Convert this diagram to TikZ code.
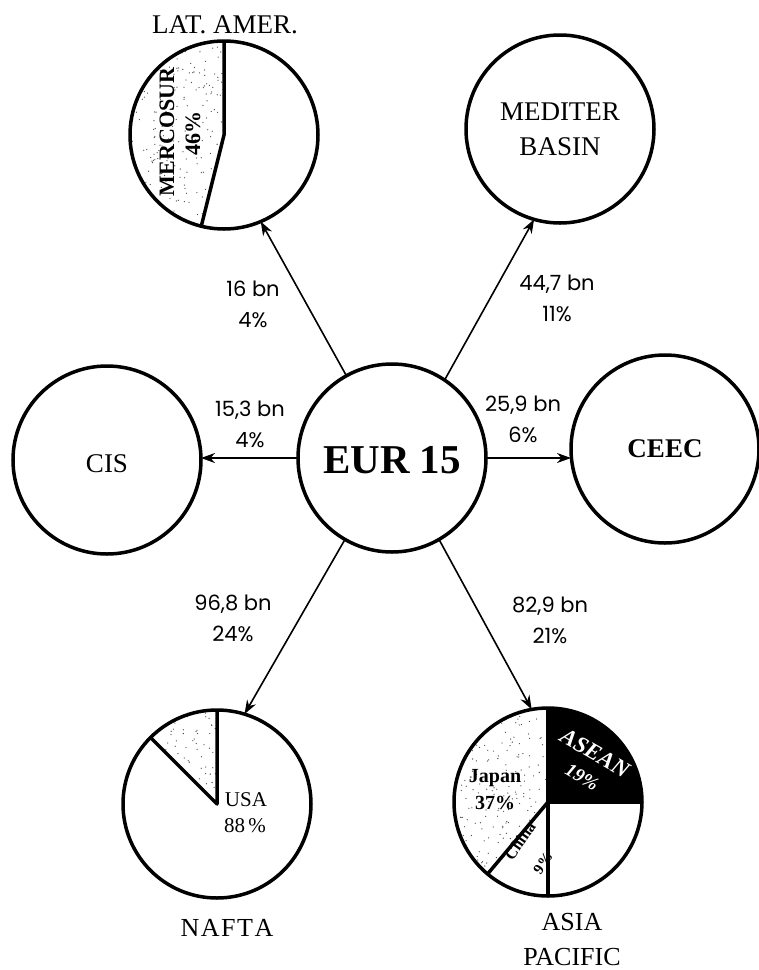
\documentclass[tikz,border=0pt]{standalone}
\usepackage{fontspec}
\setmainfont{Liberation Serif}
\newfontfamily\gothic{Poppins}
\usetikzlibrary{arrows.meta}
\begin{document}
\begin{tikzpicture}[x=1pt,y=1pt,
  region/.style={circle,draw,line width=3.5pt,minimum size=188pt,inner sep=0pt,outer sep=0pt},
  flow/.style={line width=1.6pt,-{Stealth[length=14pt,width=10pt]}},
  flowlbl/.style={font=\gothic\fontsize{21}{31}\selectfont,align=center},
  ttl/.style={font=\fontsize{27}{35}\selectfont,align=center},
  divider/.style={line width=3.5pt,line join=round},
  pielbl/.style={font=\bfseries\fontsize{22}{24}\selectfont,inner sep=0pt},
  speck/.style={fill=black!70}]
\useasboundingbox (0,0) rectangle (759,-970);
\pgfmathsetseed{4711}
% centres
\coordinate (lac) at (224,-135);
\coordinate (nac) at (217,-804);
\coordinate (asc) at (548,-802);
% Lat. Amer. stippled sector
\begin{scope}
  \clip (lac) -- ++(90:94) arc[start angle=90,end angle=256,radius=94] -- cycle;
  \foreach \i in {1,...,480} \fill[speck] ([shift={(lac)}] rand*94, rand*94) circle (0.65pt);
\end{scope}
% NAFTA stippled sector
\begin{scope}
  \clip (nac) -- ++(90:94) arc[start angle=90,end angle=135,radius=94] -- cycle;
  \foreach \i in {1,...,480} \fill[speck] ([shift={(nac)}] rand*94, rand*94) circle (0.65pt);
\end{scope}
% Asia: Japan stippled, ASEAN black
\begin{scope}
  \clip (asc) -- ++(90:94) arc[start angle=90,end angle=230,radius=94] -- cycle;
  \foreach \i in {1,...,480} \fill[speck] ([shift={(asc)}] rand*94, rand*94) circle (0.65pt);
\end{scope}
\fill (asc) -- ++(0:94) arc[start angle=0,end angle=90,radius=94] -- cycle;
% region circles
\node[region] (la) at (lac) {};
\node[region] (med) at (560,-129) {};
\node[region] (cis) at (107,-460) {};
\node[region] (eur) at (392,-458) {};
\node[region] (ceec) at (665,-449) {};
\node[region] (nafta) at (nac) {};
\node[region] (asia) at (asc) {};
% texts in circles
\node[ttl] (medt) at (med.center) {MEDITER\\BASIN};
\node[ttl] (cist) at ([yshift=-4pt]cis.center) {CIS};
\node[ttl,font=\bfseries\fontsize{27}{35}\selectfont] (ceect) at (ceec.center) {CEEC};
\node[font=\bfseries\fontsize{41}{48}\selectfont] (eurt) at ([yshift=-2pt]eur.center) {EUR 15};
% titles
\node[ttl] (lat) at (225,-25) {LAT. AMER.};
\node[ttl,font=\fontsize{26}{35}\selectfont] (naft) at (227,-928) {N\kern1.5pt A\kern1.5pt F\kern1.5pt T\kern1.5pt A};
\node[ttl,font=\fontsize{26}{35}\selectfont] (asiat) at (572,-940) {ASIA\\PACIFIC};
% pie dividers
\draw[divider] (la.north) -- (la.center) -- (la.256);
\draw[divider] (nafta.north) -- (nafta.center) -- (nafta.135);
\draw[divider] (asia.north) -- (asia.south);
\draw[divider] (asia.center) -- (asia.east);
\draw[divider] (asia.center) -- (asia.230);
% pie labels
\node[pielbl,rotate=90] (merc) at (167,-132) {MERCOSUR};
\node[pielbl,rotate=90] (m46) at (193,-133) {46\%};
\node[pielbl,font=\fontsize{21}{24}\selectfont] (usa) at (246,-800) {USA};
\node[pielbl,font=\fontsize{21}{24}\selectfont] (u88) at (245,-826) {88\,\%};
\node[pielbl,font=\bfseries\fontsize{20}{24}\selectfont] (jap) at (495,-778) {Japan};
\node[pielbl,font=\bfseries\fontsize{20}{24}\selectfont] (j37) at (495,-803) {37\%};
\node[pielbl,text=white,font=\bfseries\itshape\fontsize{23}{24}\selectfont,rotate=-30] (asean) at (595,-753) {ASEAN};
\node[pielbl,text=white,font=\bfseries\itshape\fontsize{19}{24}\selectfont,rotate=-30] (a19) at (582,-777) {19\%};
\node[pielbl,font=\bfseries\fontsize{16}{24}\selectfont,rotate=55] (chn) at (520,-841) {China};
\node[pielbl,font=\bfseries\fontsize{15}{24}\selectfont,rotate=55] (c9) at (543,-863) {9\%};
% flows
\draw[flow] (eur.119) -- (la.293);
\draw[flow] (eur.56) -- (med.254);
\draw[flow] (eur.west) -- (eur.west -| cis.east);
\draw[flow] (eur.east) -- (eur.east -| ceec.west);
\draw[flow] (eur.240) -- (nafta.73);
\draw[flow] (eur.300) -- (asia.100);
% flow labels
\node[flowlbl] (l1) at (253,-304) {16 bn\\4\%};
\node[flowlbl] (l2) at (557,-298) {44,7 bn\\11\%};
\node[flowlbl] (l3) at (250,-424) {15,3 bn\\4\%};
\node[flowlbl] (l4) at (523,-419) {25,9 bn\\6\%};
\node[flowlbl] (l5) at (233,-618) {96,8 bn\\24\%};
\node[flowlbl] (l6) at (550,-620) {82,9 bn\\21\%};
\end{tikzpicture}
\end{document}
